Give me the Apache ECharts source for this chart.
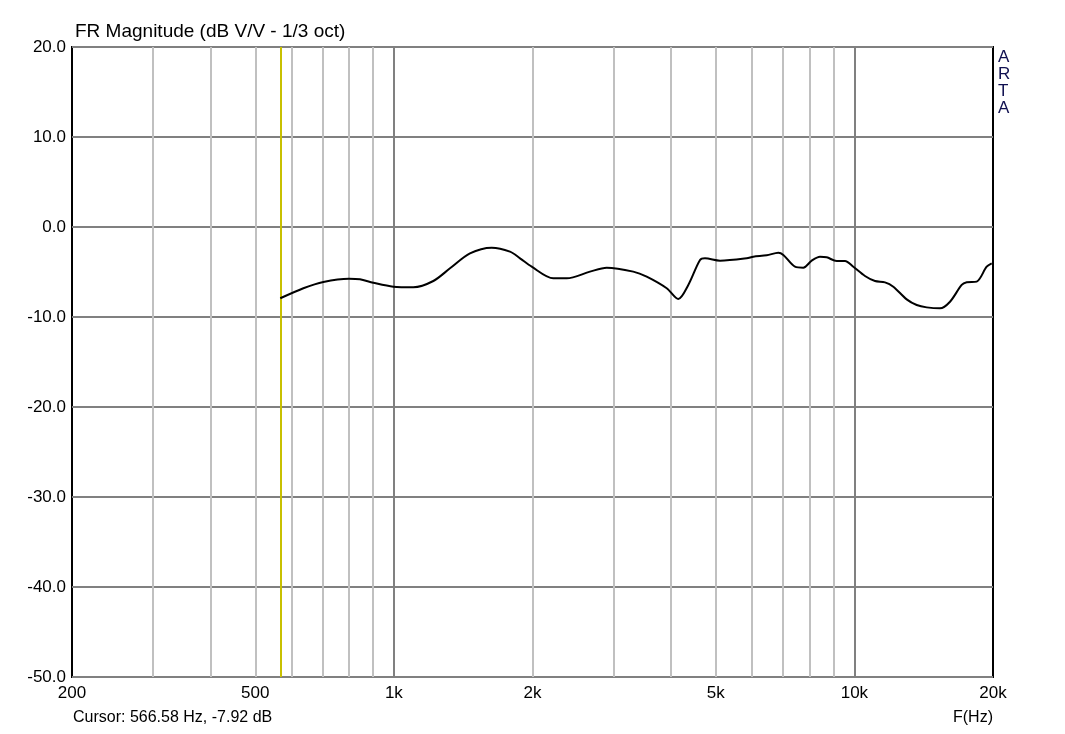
<!DOCTYPE html>
<html>
<head>
<meta charset="utf-8">
<script src="https://cdn.jsdelivr.net/npm/echarts@6/dist/echarts.min.js"></script>
<style>html,body{margin:0;padding:0;background:#fff}#c{width:1065px;height:734px}</style>
</head>
<body>
<div id="c"></div>
<script>
const freqs = [566.58, 636, 703, 799, 844, 902, 997, 1102, 1218, 1324, 1463, 1631, 1787, 1879, 1992, 2219, 2374, 2666, 2898, 3310, 3540, 3913, 4146, 4359, 4622, 4738, 5108, 5838, 6033, 6452, 6838, 7010, 7430, 7746, 8079, 8420, 8708, 9154, 9542, 9946, 10544, 11086, 11656, 12150, 12990, 13658, 14356, 15342, 16132, 17102, 17536, 18434, 19378, 19872];
const magnitudes = [-7.92, -6.8, -6.1, -5.74, -5.81, -6.19, -6.63, -6.7, -6.0, -4.59, -2.93, -2.3, -2.74, -3.48, -4.41, -5.7, -5.7, -4.96, -4.52, -4.96, -5.52, -6.81, -8.0, -6.44, -3.67, -3.48, -3.74, -3.48, -3.3, -3.15, -2.85, -3.1, -4.41, -4.52, -3.74, -3.3, -3.37, -3.78, -3.78, -4.41, -5.44, -6.0, -6.15, -6.63, -8.04, -8.67, -8.93, -9.04, -8.3, -6.44, -6.15, -6.07, -4.41, -4.04];
const xTickLabels = [200, 500, 1000, 2000, 5000, 10000, 20000];
const minorGridFreqs = [300, 400, 500, 600, 700, 800, 900, 2000, 3000, 4000, 5000, 6000, 7000, 8000, 9000];
const majorGridFreqs = [1000, 10000];
const cursorFreq = 566.58;
const cursorDb = -7.92;
const titleText = 'FR Magnitude (dB V/V - 1/3 oct)';

const chart = echarts.init(document.getElementById('c'));
const font = 'Liberation Sans, Arial, sans-serif';
function fmtHz(v){ return v >= 1000 ? (v/1000) + 'k' : String(v); }

chart.setOption({
  animation: false,
  backgroundColor: '#fff',
  textStyle: { fontFamily: font },
  grid: { left: 72, top: 47, right: 72, bottom: 57, show: true, borderColor: '#000', borderWidth: 2, backgroundColor: 'transparent' },
  xAxis: {
    type: 'log', logBase: 10, min: 200, max: 20000,
    axisLine: { show: false },
    axisTick: { show: false },
    splitLine: { show: false },
    axisLabel: { customValues: xTickLabels, formatter: v => fmtHz(Math.round(v)), color: '#000', fontSize: 17, fontFamily: font, margin: 8, showMinLabel: true, showMaxLabel: true }
  },
  yAxis: {
    type: 'value', min: -50, max: 20, interval: 10,
    axisLine: { show: false },
    axisTick: { show: false },
    splitLine: { show: true, lineStyle: { color: '#808080', width: 2 } },
    axisLabel: { formatter: v => v.toFixed(1), color: '#000', fontSize: 17, fontFamily: font, margin: 6 }
  },
  series: [
    {
      type: 'line', data: [], silent: true, z: 1,
      markLine: {
        silent: true, symbol: 'none', animation: false,
        label: { show: false },
        lineStyle: { color: '#c0c0c0', width: 2, type: 'solid' },
        data: minorGridFreqs.map(f => ({ xAxis: f }))
      }
    },
    {
      type: 'line', data: [], silent: true, z: 2,
      markLine: {
        silent: true, symbol: 'none', animation: false,
        label: { show: false },
        lineStyle: { color: '#808080', width: 2, type: 'solid' },
        data: majorGridFreqs.map(f => ({ xAxis: f }))
      }
    },
    {
      type: 'line', data: [], silent: true, z: 3,
      markLine: {
        silent: true, symbol: 'none', animation: false,
        label: { show: false },
        lineStyle: { color: '#c8c000', width: 2, type: 'solid' },
        data: [{ xAxis: cursorFreq }]
      }
    },
    {
      type: 'line', z: 5,
      data: freqs.map((f, i) => [f, magnitudes[i]]),
      showSymbol: false, smooth: 0.3,
      lineStyle: { color: '#000', width: 2 }
    }
  ],
  graphic: [
    { type: 'text', left: 75, top: 22, style: { text: titleText, fontSize: 19, fontFamily: font, fill: '#000' } },
    { type: 'text', left: 73, top: 710, style: { text: 'Cursor: ' + cursorFreq.toFixed(2) + ' Hz, ' + cursorDb.toFixed(2) + ' dB', fontSize: 16, fontFamily: font, fill: '#000' } },
    { type: 'text', right: 72, top: 710, style: { text: 'F(Hz)', fontSize: 16, fontFamily: font, fill: '#000', align: 'right' } },
    { type: 'text', left: 998, top: 49, style: { text: 'A\nR\nT\nA', fontSize: 17, lineHeight: 17, fontFamily: font, fill: '#101050' } }
  ]
});
</script>
</body>
</html>
